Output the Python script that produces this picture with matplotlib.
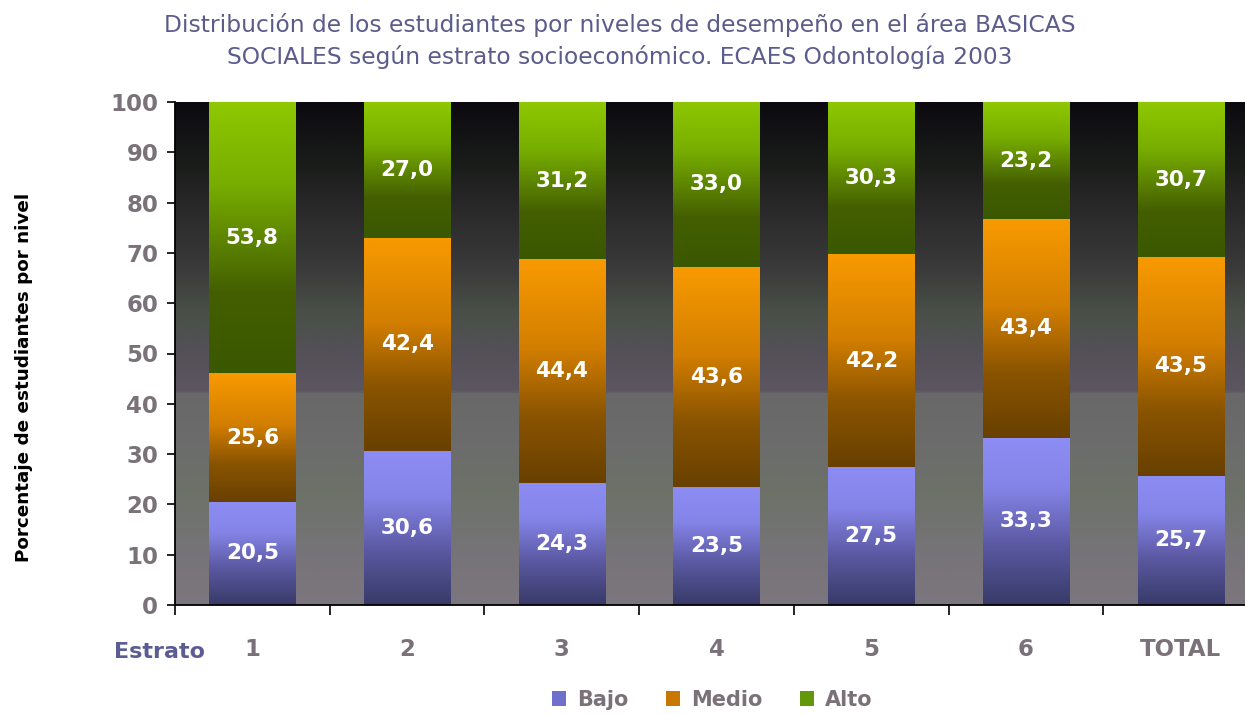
import matplotlib
matplotlib.use("Agg")
import matplotlib.pyplot as plt
import numpy as np
from matplotlib.colors import LinearSegmentedColormap
from matplotlib.patches import Patch

# data
categories = ["1", "2", "3", "4", "5", "6", "TOTAL"]
bajo = [20.5, 30.6, 24.3, 23.5, 27.5, 33.3, 25.7]
medio = [25.6, 42.4, 44.4, 43.6, 42.2, 43.4, 43.5]
alto = [53.8, 27.0, 31.2, 33.0, 30.3, 23.2, 30.7]
series_names = ["Bajo", "Medio", "Alto"]

title = ("Distribución de los estudiantes por niveles de desempeño en el área BASICAS\n"
         "SOCIALES según estrato socioeconómico. ECAES Odontología 2003")

# gradient stops (position 0 = bottom of segment, 1 = top)
grad_stops = {
    "Bajo": [(0.0, "#383a68"), (0.35, "#5a58a0"), (0.7, "#8484e8"), (1.0, "#8c8cf4")],
    "Medio": [(0.0, "#684000"), (0.3, "#8a5400"), (0.6, "#d27e00"), (1.0, "#f89a00")],
    "Alto": [(0.0, "#3a5800"), (0.3, "#445f00"), (0.7, "#78ae00"), (1.0, "#8ec800")],
}
legend_colors = {"Bajo": "#7070cc", "Medio": "#c87800", "Alto": "#62980a"}

bg_stops = [(0.0, "#7c767e"), (0.1, "#767478"), (0.22, "#6c7268"), (0.32, "#6c6c6c"),
            (0.42, "#686868"), (0.425, "#5c5660"), (0.5, "#545058"), (0.58, "#4a5048"),
            (0.66, "#3c3c3c"), (0.78, "#2a2a2a"), (0.88, "#1a1c1a"), (1.0, "#0c0a10")]

gray_txt = "#7a7278"

fig = plt.figure(figsize=(12.45, 7.15), dpi=100)
ax = fig.add_axes([175 / 1245, 1 - 605 / 715, 1083 / 1245, 503 / 715])

# background gradient
bg_cmap = LinearSegmentedColormap.from_list("bg", bg_stops)
grad = np.linspace(0, 1, 512).reshape(-1, 1)
ax.imshow(grad, cmap=bg_cmap, aspect="auto", origin="lower", extent=(0, 1, 0, 1),
          transform=ax.transAxes, zorder=0, interpolation="bilinear")

x = np.arange(len(categories))
width = 0.556
bottoms = np.zeros(len(categories))
for name, vals in zip(series_names, [bajo, medio, alto]):
    bars = ax.bar(x, vals, width, bottom=bottoms, color="none", edgecolor="none", zorder=2)
    cmap = LinearSegmentedColormap.from_list(name, grad_stops[name])
    for patch, v in zip(bars.patches, vals):
        x0, y0 = patch.get_x(), patch.get_y()
        w, h = patch.get_width(), patch.get_height()
        ax.imshow(grad, cmap=cmap, aspect="auto", origin="lower",
                  extent=(x0, x0 + w, y0, y0 + h), zorder=2, interpolation="bilinear")
        ax.text(x0 + w / 2, y0 + h / 2, f"{v:.1f}".replace(".", ","), ha="center",
                va="center", color="white", fontsize=15.5, fontweight="bold", zorder=3)
    bottoms += np.array(vals)

ax.set_xlim(-0.5, len(categories) - 0.5)
ax.set_ylim(0, 100)

for side in ["top", "right"]:
    ax.spines[side].set_visible(False)
ax.spines["left"].set_linewidth(1.3)
ax.spines["bottom"].set_linewidth(1.3)

ax.set_yticks(np.arange(0, 101, 10))
ax.tick_params(axis="y", length=6, width=1.2, color="black", labelcolor=gray_txt,
               labelsize=16.5, pad=6)
for lbl in ax.get_yticklabels():
    lbl.set_fontweight("bold")

ax.set_xticks(np.arange(-0.5, len(categories), 1.0))
ax.set_xticklabels([])
ax.tick_params(axis="x", which="major", length=7, width=1.2, color="black")
ax.set_xticks(x, minor=True)
ax.set_xticklabels(categories, minor=True, fontsize=16.5, fontweight="bold", color=gray_txt)
ax.tick_params(axis="x", which="minor", length=0, pad=24)

ax.set_ylabel("Porcentaje de estudiantes por nivel", fontsize=13.2, fontweight="bold",
              color="black")
ax.yaxis.set_label_coords(-0.131, 0.453)

fig.text(160 / 1245, 1 - 652 / 715, "Estrato", ha="center", va="center", fontsize=16,
         fontweight="bold", color="#5c5c94")

fig.text(620 / 1245, 1 - 41 / 715, title, ha="center", va="center", fontsize=16.8,
         color="#5c5c8c", linespacing=1.42)

handles = [Patch(facecolor=legend_colors[n], edgecolor="none") for n in series_names]
leg = fig.legend(handles, series_names, loc="center", bbox_to_anchor=(712 / 1245, 1 - 700 / 715),
                 ncol=3, frameon=False, handlelength=0.7, handleheight=0.7,
                 handletextpad=0.5, columnspacing=1.8, prop={"size": 15, "weight": "bold"})
for t in leg.get_texts():
    t.set_color(gray_txt)

fig.savefig("out.png", dpi=100)
